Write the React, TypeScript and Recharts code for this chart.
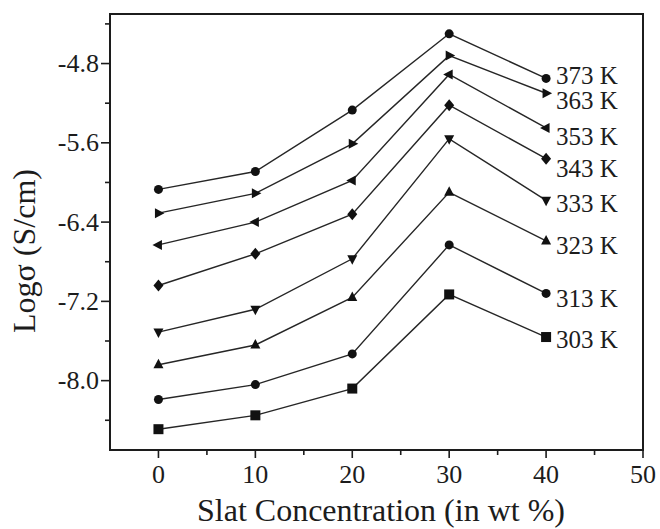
import React from 'react';
import { LineChart, Line, XAxis, YAxis, ReferenceArea, Label } from 'recharts';

const FONT = 'Liberation Serif, DejaVu Serif, serif';
const INK = '#1c1c1c';

const concentrations = [0, 10, 20, 30, 40];
const k373 = [-6.07, -5.89, -5.27, -4.5, -4.95];
const k363 = [-6.31, -6.11, -5.61, -4.72, -5.1];
const k353 = [-6.63, -6.4, -5.98, -4.91, -5.45];
const k343 = [-7.04, -6.72, -6.32, -5.22, -5.76];
const k333 = [-7.51, -7.28, -6.77, -5.56, -6.18];
const k323 = [-7.84, -7.64, -7.16, -6.1, -6.59];
const k313 = [-8.19, -8.04, -7.73, -6.63, -7.12];
const k303 = [-8.49, -8.35, -8.08, -7.13, -7.56];

const xTicks = [0, 5, 10, 15, 20, 25, 30, 35, 40, 45, 50];
const yTicks = [-8.4, -8.0, -7.6, -7.2, -6.8, -6.4, -6.0, -5.6, -5.2, -4.8, -4.4];

const series = [
  { key: 'k373', label: '373 K', values: k373, shape: 'circle', labelDy: -3 },
  { key: 'k363', label: '363 K', values: k363, shape: 'triRight', labelDy: 7 },
  { key: 'k353', label: '353 K', values: k353, shape: 'triLeft', labelDy: 9 },
  { key: 'k343', label: '343 K', values: k343, shape: 'diamond', labelDy: 10 },
  { key: 'k333', label: '333 K', values: k333, shape: 'triDown', labelDy: 3 },
  { key: 'k323', label: '323 K', values: k323, shape: 'triUp', labelDy: 5 },
  { key: 'k313', label: '313 K', values: k313, shape: 'circle', labelDy: 5 },
  { key: 'k303', label: '303 K', values: k303, shape: 'square', labelDy: 2 },
];

const data = concentrations.map((c, i) => {
  const row: any = { x: c };
  series.forEach((s) => {
    row[s.key] = s.values[i];
  });
  return row;
});

const textStyle = { fontFamily: FONT };

const Marker = ({ shape, cx, cy }: any) => {
  switch (shape) {
    case 'circle':
      return <circle cx={cx} cy={cy} r={4.5} fill="#111" />;
    case 'square':
      return <rect x={cx - 5} y={cy - 5} width={10} height={10} fill="#111" />;
    case 'triUp':
      return <polygon points={`${cx},${cy - 6} ${cx + 5},${cy + 3.5} ${cx - 5},${cy + 3.5}`} fill="#111" />;
    case 'triDown':
      return <polygon points={`${cx},${cy + 6} ${cx + 5},${cy - 3.5} ${cx - 5},${cy - 3.5}`} fill="#111" />;
    case 'triRight':
      return <polygon points={`${cx + 6},${cy} ${cx - 3.5},${cy - 5} ${cx - 3.5},${cy + 5}`} fill="#111" />;
    case 'triLeft':
      return <polygon points={`${cx - 6},${cy} ${cx + 3.5},${cy - 5} ${cx + 3.5},${cy + 5}`} fill="#111" />;
    case 'diamond':
      return <polygon points={`${cx},${cy - 6} ${cx + 5},${cy} ${cx},${cy + 6} ${cx - 5},${cy}`} fill="#111" />;
    default:
      return null;
  }
};

const XTick = (props: any) => {
  const { x, y, payload } = props;
  const v = payload.value;
  const major = Math.round(v) % 10 === 0;
  return (
    <g>
      <line x1={x} x2={x} y1={y} y2={y + (major ? 8 : 5)} stroke={INK} strokeWidth={1.6} />
      {major && (
        <text x={x} y={y + 33} textAnchor="middle" fontSize={26} fill={INK} style={textStyle}>
          {v}
        </text>
      )}
    </g>
  );
};

const YTick = (props: any) => {
  const { x, y, payload } = props;
  const v = payload.value;
  const major = Math.abs(Math.round(v * 10)) % 8 === 0;
  return (
    <g>
      <line x1={x} x2={x - (major ? 9 : 5)} y1={y} y2={y} stroke={INK} strokeWidth={1.6} />
      {major && (
        <text x={x - 11} y={y + 8.5} textAnchor="end" fontSize={26} fill={INK} style={textStyle}>
          {v.toFixed(1)}
        </text>
      )}
    </g>
  );
};

export default function App() {
  return (
    <div style={{ position: 'absolute', left: 0, top: 0, background: '#fff' }}>
      <LineChart width={660} height={529} data={data} margin={{ top: 14, right: 17, bottom: 0, left: 0 }}>
        <ReferenceArea x1={-5} x2={50} y1={-8.7} y2={-4.3} fill="none" fillOpacity={0} stroke={INK} strokeWidth={2} ifOverflow="visible" />
        <XAxis
          type="number"
          dataKey="x"
          domain={[-5, 50]}
          ticks={xTicks}
          interval={0}
          height={79}
          tickSize={0}
          tickMargin={0}
          axisLine={{ stroke: INK, strokeWidth: 2 }}
          tickLine={false}
          tick={(p: any) => <XTick {...p} />}
        >
          <Label
            content={() => (
              <text x={381} y={521} textAnchor="middle" fontSize={32} fill={INK} style={textStyle}>
                Slat Concentration (in wt %)
              </text>
            )}
          />
        </XAxis>
        <YAxis
          type="number"
          domain={[-8.7, -4.3]}
          ticks={yTicks}
          interval={0}
          width={110}
          tickSize={0}
          tickMargin={0}
          axisLine={{ stroke: INK, strokeWidth: 2 }}
          tickLine={false}
          tick={(p: any) => <YTick {...p} />}
        >
          <Label
            content={() => (
              <text x={35} y={251} transform="rotate(-90 35 251)" textAnchor="middle" fontSize={32} fill={INK} style={textStyle}>
                Logσ (S/cm)
              </text>
            )}
          />
        </YAxis>
        {series.map((s) => (
          <Line
            key={s.key}
            dataKey={s.key}
            type="linear"
            stroke="#262626"
            strokeWidth={1.4}
            isAnimationActive={false}
            dot={(p: any) => (
              <g key={`${s.key}-${p.index}`}>
                <Marker shape={s.shape} cx={p.cx} cy={p.cy} />
                {p.index === concentrations.length - 1 && (
                  <text x={p.cx + 10} y={p.cy + s.labelDy} dominantBaseline="central" fontSize={25} fill={INK} style={textStyle}>
                    {s.label}
                  </text>
                )}
              </g>
            )}
            activeDot={false}
          />
        ))}
      </LineChart>
    </div>
  );
}
